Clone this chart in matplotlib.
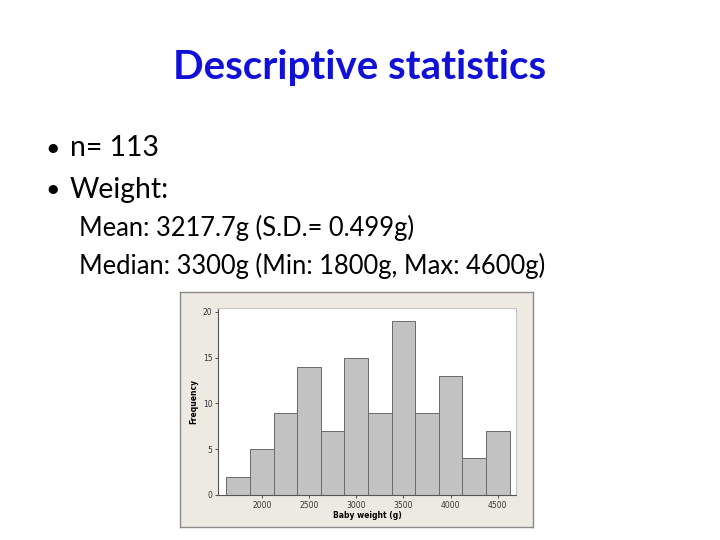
import matplotlib.pyplot as plt

# histogram data
bin_centers = [1750, 2000, 2250, 2500, 2750, 3000, 3250, 3500, 3750, 4000, 4250, 4500]
counts = [2, 5, 9, 14, 7, 15, 9, 19, 9, 13, 4, 7]
x_ticks = [2000, 2500, 3000, 3500, 4000, 4500]
y_ticks = [0, 5, 10, 15, 20]

title = "Descriptive statistics"
bullets = ["n= 113", "Weight:"]
sub_lines = ["Mean: 3217.7g (S.D.= 0.499g)",
             "Median: 3300g (Min: 1800g, Max: 4600g)"]

W, H = 720, 540
fig = plt.figure(figsize=(7.2, 5.4), dpi=100)
fig.patch.set_facecolor("white")

def fx(px):
    return px / W

def fy(py):
    return 1 - py / H

font = "Lato"
fig.text(0.5, fy(68), title, ha="center", va="center", color="#1010D8",
         fontsize=29, fontweight="bold", family=font)

for i, b in enumerate(bullets):
    y = fy(148 + 42 * i)
    fig.text(fx(45), y, "\u2022", ha="left", va="center", fontsize=18, family=font)
    fig.text(fx(70), y, b, ha="left", va="center", fontsize=20.4, family=font)

for i, s in enumerate(sub_lines):
    fig.text(fx(79), fy(228 + 38 * i), s, ha="left", va="center", fontsize=18.4, family=font)

# beige frame of the pasted picture
bg = fig.add_axes([fx(180), fy(527), fx(533) - fx(180), fy(292) - fy(527)])
bg.set_facecolor("#EDEAE2")
bg.set_xticks([])
bg.set_yticks([])
for sp in bg.spines.values():
    sp.set_color("#8A8A8A")
    sp.set_linewidth(1)

ax = fig.add_axes([fx(218), fy(495), fx(516) - fx(218), fy(308) - fy(495)])
ax.set_facecolor("white")
ax.bar(bin_centers, counts, width=250, color="#C2C2C2", edgecolor="#6A6A6A", linewidth=0.7)
ax.set_xlim(1537, 4692)
ax.set_ylim(0, 20.4)
ax.set_xticks(x_ticks)
ax.set_yticks(y_ticks)
ax.tick_params(labelsize=5.5, length=2.5, width=0.6, colors="#333333", pad=1.5)
ax.set_xlabel("Baby weight (g)", fontsize=5.5, fontweight="bold", labelpad=1)
ax.set_ylabel("Frequency", fontsize=5.5, fontweight="bold", labelpad=3)
ax.spines["left"].set_color("#555555")
ax.spines["bottom"].set_color("#555555")
ax.spines["top"].set_color("#C8C8C8")
ax.spines["right"].set_color("#C8C8C8")
for sp in ax.spines.values():
    sp.set_linewidth(0.8)

fig.savefig("out.png", dpi=100)
